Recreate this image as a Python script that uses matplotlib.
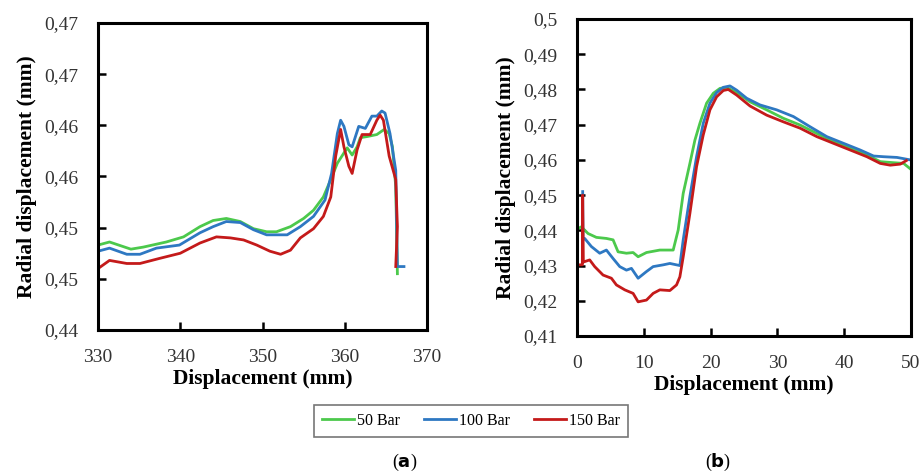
import matplotlib
matplotlib.use("Agg")
import matplotlib.pyplot as plt

# ---------------- Data: panel (a) ----------------
a_x_50 = [330.0, 331.4, 334.0, 335.5, 338.3, 340.4, 342.4, 344.0, 345.6, 347.3, 348.9, 350.5, 351.7,
          353.4, 355.0, 356.2, 357.4, 358.3, 359.1, 359.9, 360.3, 360.9, 361.5, 361.9, 362.7, 363.9,
          364.8, 365.4, 365.8, 366.2, 366.4]
a_y_50 = [0.4483, 0.4486, 0.4479, 0.4481, 0.4486, 0.4491, 0.4501, 0.4507, 0.4509, 0.4506, 0.4499, 0.4496, 0.4496,
          0.4501, 0.4509, 0.4517, 0.4530, 0.4547, 0.4563, 0.4573, 0.4578, 0.4571, 0.4579, 0.4588, 0.4589, 0.4591,
          0.4596, 0.4592, 0.4579, 0.4540, 0.4455]

a_x_100 = [330.0, 331.4, 333.5, 335.1, 337.1, 339.9, 342.4, 344.0, 345.6, 347.3, 348.9, 350.5, 353.0,
           354.6, 356.2, 357.6, 358.4, 359.1, 359.5, 359.9, 360.5, 360.9, 361.7, 362.5, 363.3, 363.9,
           364.5, 364.9, 365.5, 366.2, 366.4, 367.2]
a_y_100 = [0.4477, 0.4480, 0.4474, 0.4474, 0.4480, 0.4483, 0.4495, 0.4501, 0.4506, 0.4505, 0.4498, 0.4493, 0.4493,
           0.4501, 0.4511, 0.4527, 0.4553, 0.4592, 0.4605, 0.4599, 0.4581, 0.4579, 0.4599, 0.4597, 0.4609, 0.4609,
           0.4614, 0.4612, 0.4592, 0.4556, 0.4462, 0.4462]

a_x_150 = [330.0, 331.4, 333.5, 335.1, 337.5, 340.0, 342.4, 344.4, 346.1, 347.7, 349.3, 350.9, 352.2,
           353.4, 354.6, 356.2, 357.4, 358.3, 358.9, 359.5, 359.9, 360.5, 360.9, 361.5, 362.1, 363.1,
           363.9, 364.3, 364.7, 365.4, 366.2, 366.4, 366.2]
a_y_150 = [0.4460, 0.4468, 0.4465, 0.4465, 0.4470, 0.4475, 0.4485, 0.4491, 0.4490, 0.4488, 0.4483, 0.4477, 0.4474,
           0.4478, 0.4490, 0.4499, 0.4511, 0.4530, 0.4570, 0.4596, 0.4579, 0.4560, 0.4553, 0.4576, 0.4591, 0.4591,
           0.4605, 0.4610, 0.4605, 0.4570, 0.4547, 0.4501, 0.4462]

# ---------------- Data: panel (b) ----------------
b_x_50 = [0.25, 0.65, 1.65, 2.9, 4.4, 5.4, 6.15, 7.4, 8.4, 9.15, 10.4, 12.4, 14.4, 15.15, 15.9, 16.9,
          17.65, 18.4, 19.4, 20.4, 21.4, 22.4, 23.9, 25.9, 28.4, 30.9, 33.4, 35.9, 38.4, 40.9, 43.4,
          45.4, 47.4, 48.9, 50.0]
b_y_50 = [0.4406, 0.4410, 0.4391, 0.4380, 0.4377, 0.4373, 0.4339, 0.4335, 0.4337, 0.4325, 0.4337, 0.4344,
          0.4344, 0.4401, 0.4505, 0.4590, 0.4656, 0.4704, 0.4761, 0.4789, 0.4803, 0.4806, 0.4791, 0.4765,
          0.4742, 0.4718, 0.4699, 0.4675, 0.4652, 0.4633, 0.4614, 0.4595, 0.4592, 0.4590, 0.4573]

b_x_100 = [0.85, 0.9, 1.15, 2.15, 3.4, 4.4, 5.4, 6.4, 7.4, 8.15, 9.15, 10.4, 11.4, 12.9, 13.9, 15.4,
           15.9, 16.9, 17.9, 18.9, 19.9, 20.9, 21.9, 22.9, 23.9, 25.4, 27.4, 29.9, 32.4, 34.9, 37.4,
           39.9, 42.4, 44.4, 45.9, 47.9, 49.9]
b_y_100 = [0.4510, 0.4373, 0.4377, 0.4354, 0.4335, 0.4344, 0.4320, 0.4297, 0.4287, 0.4292, 0.4264, 0.4283,
           0.4297, 0.4302, 0.4306, 0.4300, 0.4373, 0.4496, 0.4609, 0.4704, 0.4761, 0.4791, 0.4806, 0.4810,
           0.4798, 0.4775, 0.4756, 0.4742, 0.4723, 0.4694, 0.4666, 0.4647, 0.4628, 0.4611, 0.4609, 0.4607,
           0.4600]

b_x_150 = [0.15, 0.8, 0.85, 0.95, 1.9, 2.65, 3.9, 5.15, 5.9, 7.15, 8.4, 9.15, 10.4, 11.4, 12.4, 13.9,
           14.9, 15.4, 15.9, 16.9, 17.9, 18.9, 19.9, 20.9, 21.9, 22.65, 23.9, 25.9, 28.4, 30.9, 33.4,
           35.9, 38.4, 40.9, 43.4, 45.4, 46.9, 48.4, 49.3]
b_y_150 = [0.4302, 0.4302, 0.4500, 0.4310, 0.4316, 0.4297, 0.4273, 0.4264, 0.4245, 0.4231, 0.4221, 0.4197,
           0.4202, 0.4221, 0.4231, 0.4229, 0.4245, 0.4268, 0.4325, 0.4448, 0.4581, 0.4671, 0.4742, 0.4779,
           0.4797, 0.4800, 0.4784, 0.4753, 0.4727, 0.4708, 0.4690, 0.4666, 0.4647, 0.4628, 0.4609, 0.4590,
           0.4585, 0.4588, 0.4598]

series_labels = ["50 Bar", "100 Bar", "150 Bar"]
series_colors = ["#4cc94c", "#2e78c2", "#c41a1a"]

a_xticks = [330, 340, 350, 360, 370]
a_yticks = [0.440, 0.445, 0.450, 0.455, 0.460, 0.465, 0.470]
a_yticklabels = ["0,44", "0,45", "0,45", "0,46", "0,46", "0,47", "0,47"]
b_xticks = [0, 10, 20, 30, 40, 50]
b_yticks = [0.41, 0.42, 0.43, 0.44, 0.45, 0.46, 0.47, 0.48, 0.49, 0.50]
b_yticklabels = ["0,41", "0,42", "0,43", "0,44", "0,45", "0,46", "0,47", "0,48", "0,49", "0,5"]

xlabel = "Displacement (mm)"
ylabel = "Radial displacement (mm)"

FONT = "Liberation Serif"
W, H = 924, 475
fig = plt.figure(figsize=(W / 100, H / 100), dpi=100)

ax1 = fig.add_axes([98 / W, 1 - 330 / H, (427 - 98) / W, (330 - 23) / H])
ax2 = fig.add_axes([577 / W, 1 - 336 / H, (911 - 577) / W, (336 - 19) / H])

panels = [
    (ax1, [(a_x_50, a_y_50), (a_x_100, a_y_100), (a_x_150, a_y_150)], (330, 370), (0.44, 0.47),
     a_xticks, a_yticks, a_yticklabels),
    (ax2, [(b_x_50, b_y_50), (b_x_100, b_y_100), (b_x_150, b_y_150)], (0, 50), (0.41, 0.50),
     b_xticks, b_yticks, b_yticklabels),
]

handles = []
for ax, data, xl, yl, xt, yt, ytl in panels:
    hs = []
    for (xs, ys), lab, col in zip(data, series_labels, series_colors):
        h, = ax.plot(xs, ys, color=col, lw=2.0, label=lab, solid_joinstyle="round")
        hs.append(h)
    handles = hs
    ax.set_xlim(*xl)
    ax.set_ylim(*yl)
    ax.set_xticks(xt)
    ax.set_xticklabels([str(v) for v in xt])
    ax.set_yticks(yt)
    ax.set_yticklabels(ytl)
    for sp in ax.spines.values():
        sp.set_linewidth(2.2)
        sp.set_color("black")
    ax.tick_params(direction="in", length=6, width=1.8, pad=14, labelsize=14,
                   labelcolor="#333333")
    for lbl in ax.get_xticklabels() + ax.get_yticklabels():
        lbl.set_fontfamily(FONT)
    ax.set_xlabel(xlabel, fontsize=15.5, fontweight="bold", fontfamily=FONT, labelpad=2)
    ax.set_ylabel(ylabel, fontsize=15.5, fontweight="bold", fontfamily=FONT, labelpad=5)

leg = fig.legend(handles=handles, labels=series_labels, loc="center",
                 bbox_to_anchor=(471 / W, 1 - 421 / H), ncol=3, frameon=True, fancybox=False,
                 prop={"family": FONT, "size": 11.5}, handlelength=2.0, handletextpad=0.2,
                 columnspacing=1.5, borderpad=0.5)
leg.get_frame().set_edgecolor("#555555")
leg.get_frame().set_linewidth(1.2)

fig.text(405 / W, 1 - 462 / H, r"($\mathbf{a}$)", ha="center", va="center", fontsize=13, fontfamily=FONT)
fig.text(718 / W, 1 - 462 / H, r"($\mathbf{b}$)", ha="center", va="center", fontsize=13, fontfamily=FONT)

fig.savefig("out.png", dpi=100)
